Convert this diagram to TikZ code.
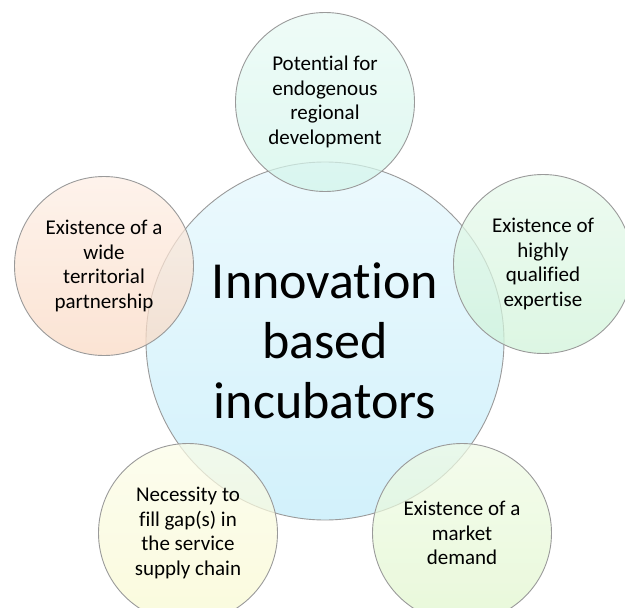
\documentclass[tikz,border=0pt]{standalone}
\usepackage{fontspec}
\setmainfont[Ligatures=NoCommon]{Carlito}
\usepackage{tikz}
\usetikzlibrary{positioning, shapes}

\definecolor{centre}{HTML}{E4F7FD}
\definecolor{centreb}{HTML}{D2F1FB}
\definecolor{mint}{HTML}{D2F5EA}
\definecolor{leaf}{HTML}{CFF3D8}
\definecolor{lime}{HTML}{E0F6CC}
\definecolor{cream}{HTML}{F8F9D0}
\definecolor{peach}{HTML}{FAD9C3}
\definecolor{rim}{HTML}{9A9A9A}

\begin{document}
\begin{tikzpicture}[x=1pt, y=-1pt,
  big/.style={circle, draw=rim, line width=0.9pt, minimum size=358pt, inner sep=0pt,
    top color=centre!70!white, bottom color=centreb, align=center,
    font=\fontsize{52}{60}\selectfont},
  small/.style={circle, draw=rim, line width=0.9pt, minimum size=179pt, inner sep=0pt,
    fill opacity=0.72, text opacity=1, align=center,
    font=\fontsize{21}{24.5}\selectfont}]

\useasboundingbox (0,0) rectangle (625,608);
\begin{scope}
\clip (0,0) rectangle (625,608);

% nodes
\node[big] (C) at (325, 341) {Innovation\\based\\incubators};

\node[small, top color=mint!50!white, bottom color=mint] (P) at (325, 102)
  {Potential for\\endogenous\\regional\\development};
\node[small, top color=leaf!50!white, bottom color=leaf] (E) at (543, 264)
  {Existence of\\highly\\qualified\\expertise};
\node[small, top color=lime!50!white, bottom color=lime] (M) at (462, 533)
  {Existence of a\\market\\demand};
\node[small, top color=cream!50!white, bottom color=cream] (G) at (188, 533)
  {Necessity to\\fill gap(s) in\\the service\\supply chain};
\node[small, top color=peach!45!white, bottom color=peach] (W) at (104, 266)
  {Existence of a\\wide\\territorial\\partnership};
\end{scope}

\end{tikzpicture}
\end{document}
